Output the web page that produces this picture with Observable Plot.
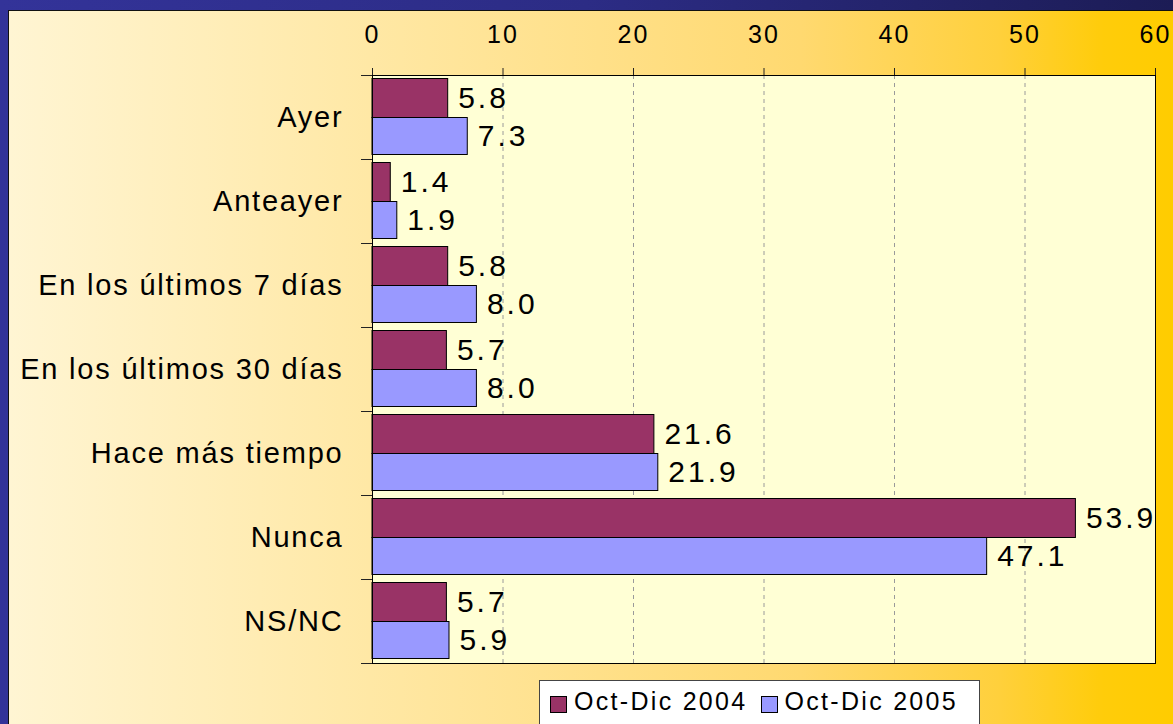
<!DOCTYPE html>
<html>
<head>
<meta charset="utf-8">
<script src="https://cdn.jsdelivr.net/npm/d3@7"></script>
<script src="https://cdn.jsdelivr.net/npm/@observablehq/plot@0.6"></script>
<style>
  html, body { margin: 0; padding: 0; }
  body {
    width: 1173px; height: 724px; overflow: hidden; position: relative;
    background: linear-gradient(to right, #333399 0%, #2c2c85 50%, #1c1c55 100%);
    font-family: "Liberation Sans", Arial, sans-serif;
  }
  #panel {
    position: absolute; left: 8px; top: 10px; right: 0; bottom: 0;
    border-left: 1px solid #111; border-top: 1px solid #111;
    background: linear-gradient(to right, #FFF5D3 0%, #FFE8A5 31%, #FFD970 68%, #FFD03C 85%, #FFCC0A 94%, #FFCC00 100%);
  }
  #chart { position: absolute; left: 0; top: 0; }
  #chart svg [aria-label="y-axis tick label"] text { letter-spacing: 1.8px; }
  #chart svg [aria-label="x-axis tick label"] text { letter-spacing: 2px; }
  #chart svg [aria-label="text"] text { letter-spacing: 3px; }
  #legend {
    position: absolute; left: 539px; top: 680px; width: 441px; height: 60px;
    box-sizing: border-box; border: 1px solid #444; background: #ffffff;
    display: flex; align-items: flex-start; padding: 8px 0 0 10px;
    font-size: 25px; letter-spacing: 2.3px; line-height: 25px; color: #000;
  }
  #legend .sw { width: 17px; height: 17px; box-sizing: border-box; border: 1px solid #000; margin-top: 7px; margin-right: 7px; flex: none; }
  #legend .item { display: flex; align-items: flex-start; margin-right: 13px; white-space: nowrap; }
</style>
</head>
<body>
<div id="panel"></div>
<div id="chart"></div>
<div id="legend"></div>
<script>
const categories = ["Ayer", "Anteayer", "En los últimos 7 días", "En los últimos 30 días", "Hace más tiempo", "Nunca", "NS/NC"];
const series = ["Oct-Dic 2004", "Oct-Dic 2005"];
const values2004 = [5.8, 1.4, 5.8, 5.7, 21.6, 53.9, 5.7];
const values2005 = [7.3, 1.9, 8.0, 8.0, 21.9, 47.1, 5.9];
const xTicks = [0, 10, 20, 30, 40, 50, 60];
const colors = ["#993366", "#9999FF"];

const d2004 = categories.map((c, i) => ({cat: c, series: series[0], value: values2004[i]}));
const d2005 = categories.map((c, i) => ({cat: c, series: series[1], value: values2005[i]}));

const W = 1173, H = 724, mt = 75, mb = 61, ml = 372, mr = 18;
const step = (H - mt - mb) / categories.length;
const half = step / 2;

const chart = Plot.plot({
  width: W, height: H,
  marginLeft: ml, marginTop: mt, marginRight: mr, marginBottom: mb,
  style: {background: "transparent", fontFamily: "'Liberation Sans', Arial, sans-serif", color: "black", overflow: "visible"},
  x: {domain: [0, 60], label: null},
  y: {domain: categories, padding: 0, label: null},
  marks: [
    Plot.frame({fill: "#FFFFD5"}),
    Plot.gridX(xTicks.slice(1, -1), {stroke: "#9a9a9a", strokeOpacity: 1, strokeDasharray: "4,4"}),
    Plot.barX(d2004, {x: "value", y: "cat", fill: colors[0], stroke: "black", strokeWidth: 1, insetTop: 3.5, insetBottom: half - 0.5}),
    Plot.barX(d2005, {x: "value", y: "cat", fill: colors[1], stroke: "black", strokeWidth: 1, insetTop: half + 0.5, insetBottom: 4.5}),
    Plot.text(d2004, {x: "value", y: "cat", text: d => d.value.toFixed(1), textAnchor: "start", dx: 10, dy: -(half - 23), fontSize: 30, fill: "black"}),
    Plot.text(d2005, {x: "value", y: "cat", text: d => d.value.toFixed(1), textAnchor: "start", dx: 10, dy: (half - 23), fontSize: 30, fill: "black"}),
    Plot.axisX({anchor: "top", ticks: xTicks, tickSize: 8, tickPadding: 25, fontSize: 25, label: null, stroke: "#222"}),
    Plot.axisY({tickSize: 0, tickPadding: 29, fontSize: 29, label: null}),
    Plot.axisY({ticks: categories, tickFormat: () => "", tickSize: 11, dy: -half, label: null, stroke: "#222"}),
    Plot.axisY({ticks: [categories[categories.length - 1]], tickFormat: () => "", tickSize: 11, dy: half, label: null, stroke: "#222"}),
    Plot.frame({stroke: "black"})
  ]
});
document.getElementById("chart").appendChild(chart);

const legend = document.getElementById("legend");
series.forEach((s, i) => {
  const item = document.createElement("div");
  item.className = "item";
  const sw = document.createElement("div");
  sw.className = "sw";
  sw.style.background = colors[i];
  const t = document.createElement("span");
  t.textContent = s;
  item.appendChild(sw);
  item.appendChild(t);
  legend.appendChild(item);
});
</script>
</body>
</html>
